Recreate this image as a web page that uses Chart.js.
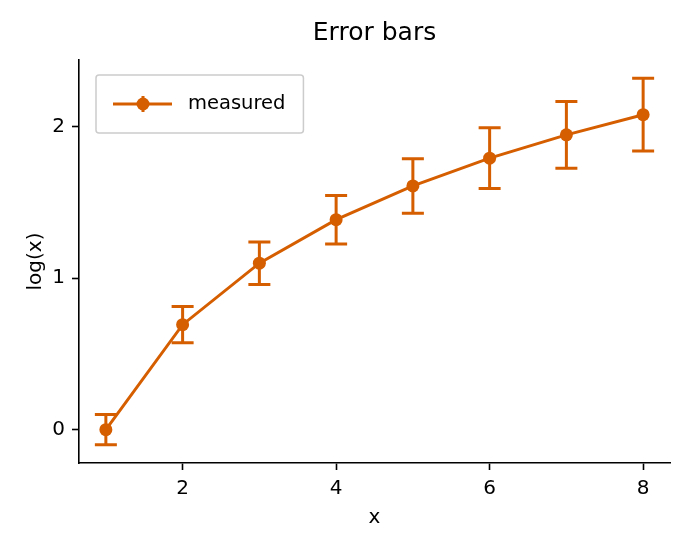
<!DOCTYPE html>
<html>
<head>
<meta charset="utf-8">
<script src="https://cdn.jsdelivr.net/npm/chart.js@4.4.1/dist/chart.umd.min.js"></script>
<style>
  html, body { margin: 0; padding: 0; background: #fff; }
  #wrap { width: 694px; height: 556px; }
</style>
</head>
<body>
<div id="wrap"><canvas id="chart" width="694" height="556"></canvas></div>
<script>
// data
const xValues = [1, 2, 3, 4, 5, 6, 7, 8];
const yValues = [0, 0.693, 1.099, 1.386, 1.609, 1.792, 1.946, 2.079];
const yErrors = [0.10, 0.12, 0.14, 0.16, 0.18, 0.20, 0.22, 0.24];
const xTicks = [2, 4, 6, 8];
const yTicks = [0, 1, 2];
const seriesName = "measured";

const orange = "#d55e00";
const fontFamily = "'DejaVu Sans', sans-serif";

// vertical error bars with caps, drawn under the markers
const errorBars = {
    id: "errorBars",
    beforeDatasetsDraw(chart) {
        const { ctx, scales: { x, y } } = chart;
        const cap = 11;
        ctx.save();
        ctx.strokeStyle = orange;
        ctx.lineWidth = 3;
        xValues.forEach((xv, i) => {
            const px = x.getPixelForValue(xv);
            const top = y.getPixelForValue(yValues[i] + yErrors[i]);
            const bot = y.getPixelForValue(yValues[i] - yErrors[i]);
            ctx.beginPath();
            ctx.moveTo(px, top); ctx.lineTo(px, bot);
            ctx.moveTo(px - cap, top); ctx.lineTo(px + cap, top);
            ctx.moveTo(px - cap, bot); ctx.lineTo(px + cap, bot);
            ctx.stroke();
        });
        ctx.restore();
    }
};

// matplotlib-like framed legend in the upper left of the plot area
const boxLegend = {
    id: "boxLegend",
    afterDraw(chart) {
        const { ctx, chartArea } = chart;
        const left = chartArea.left + 17;
        const top = chartArea.top + 15;
        ctx.save();
        ctx.font = "19.5px " + fontFamily;
        const tw = ctx.measureText(seriesName).width;
        const w = 92 + tw + 18;
        const h = 58;
        const mid = top + h / 2;

        ctx.beginPath();
        ctx.roundRect(left, top, w, h, 3);
        ctx.fillStyle = "rgba(255,255,255,0.8)";
        ctx.fill();
        ctx.strokeStyle = "#cccccc";
        ctx.lineWidth = 1.5;
        ctx.stroke();

        ctx.strokeStyle = orange;
        ctx.lineWidth = 3;
        ctx.beginPath();
        ctx.moveTo(left + 17, mid); ctx.lineTo(left + 76, mid);
        ctx.moveTo(left + 47, mid - 8); ctx.lineTo(left + 47, mid + 8);
        ctx.stroke();
        ctx.fillStyle = orange;
        ctx.beginPath();
        ctx.arc(left + 47, mid, 6.5, 0, Math.PI * 2);
        ctx.fill();

        ctx.fillStyle = "#000";
        ctx.textBaseline = "middle";
        ctx.fillText(seriesName, left + 92, mid);
        ctx.restore();
    }
};

const axisCommon = {
    grid: {
        display: true,
        drawOnChartArea: false,
        drawTicks: true,
        tickLength: 7,
        tickWidth: 1.6,
        tickColor: "#000"
    },
    border: { display: true, color: "#000", width: 1.6 },
    ticks: { color: "#000", font: { size: 20, family: fontFamily }, padding: 7 }
};

document.addEventListener("DOMContentLoaded", () => {
    const ctx = document.getElementById("chart").getContext("2d");
    new Chart(ctx, {
        type: "scatter",
        data: {
            datasets: [
                {
                    label: seriesName,
                    data: xValues.map((xv, i) => ({ x: xv, y: yValues[i] })),
                    showLine: true,
                    borderColor: orange,
                    borderWidth: 3,
                    backgroundColor: orange,
                    pointRadius: 6.5,
                    pointBorderWidth: 0,
                    pointBackgroundColor: orange,
                    clip: false
                }
            ]
        },
        options: {
            responsive: false,
            animation: false,
            layout: { autoPadding: false, padding: { left: 0, right: 24, top: 0, bottom: 0 } },
            plugins: {
                legend: { display: false },
                tooltip: { enabled: false },
                title: {
                    display: true,
                    fullSize: false,
                    text: "Error bars",
                    color: "#000",
                    font: { size: 25, family: fontFamily, weight: "normal" },
                    padding: { top: 18, bottom: 12 }
                }
            },
            scales: {
                x: {
                    ...axisCommon,
                    type: "linear",
                    min: 0.65,
                    max: 8.35,
                    afterBuildTicks: (s) => { s.ticks = xTicks.map((v) => ({ value: v })); },
                    afterFit: (s) => { s.height = 93; },
                    title: {
                        display: true,
                        text: "x",
                        color: "#000",
                        font: { size: 20, family: fontFamily },
                        padding: { top: 0, bottom: 26 }
                    }
                },
                y: {
                    ...axisCommon,
                    type: "linear",
                    min: -0.22,
                    max: 2.44,
                    afterBuildTicks: (s) => { s.ticks = yTicks.map((v) => ({ value: v })); },
                    afterFit: (s) => { s.width = 79; },
                    title: {
                        display: true,
                        text: "log(x)",
                        color: "#000",
                        font: { size: 20, family: fontFamily },
                        padding: { top: 24, bottom: 0 }
                    }
                }
            }
        },
        plugins: [errorBars, boxLegend]
    });
});
</script>
</body>
</html>
